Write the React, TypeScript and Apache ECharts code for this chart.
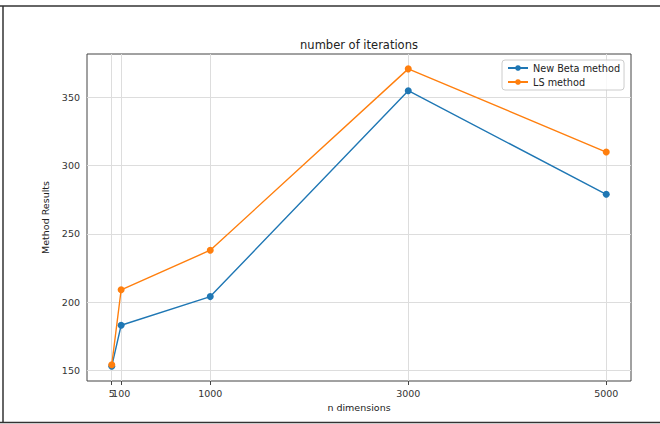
import React, { useEffect, useRef } from "react";
import * as echarts from "echarts";

const xValues = [5, 100, 1000, 3000, 5000];
const xTickLabels = ["5", "100", "1000", "3000", "5000"];
const yTicks = [150, 200, 250, 300, 350];
const newBeta = [153, 183, 204, 355, 279];
const lsMethod = [154, 209, 238, 371, 310];

const FONT = "DejaVu Sans";

export default function App() {
  const ref = useRef<HTMLDivElement>(null);
  useEffect(() => {
    if (!ref.current) return;
    const chart = echarts.init(ref.current, undefined, { renderer: "svg" });
    const axisColor = "#444";
    const gridColor = "#dddddd";
    const labelFmt = (v: number) => {
      const i = xValues.indexOf(v);
      return i >= 0 ? xTickLabels[i] : "";
    };
    const firstX = xValues.slice(0, 1);
    const restX = xValues.slice(1);
    const baseX = {
      type: "value",
      min: -245,
      max: 5250,
      position: "bottom",
      splitLine: { show: false },
      axisLine: { show: false },
    };
    chart.setOption({
      animation: false,
      backgroundColor: "#ffffff",
      grid: {
        left: 87,
        right: 29,
        top: 54,
        bottom: 43,
        show: true,
        borderColor: axisColor,
        borderWidth: 1,
        backgroundColor: "transparent",
      },
      xAxis: [
        {
          ...baseX,
          axisTick: {
            show: true,
            length: 4,
            customValues: restX,
            lineStyle: { color: axisColor, width: 1 },
          },
          axisLabel: {
            customValues: restX,
            formatter: labelFmt,
            hideOverlap: false,
            margin: 7,
            color: "#333",
            fontFamily: FONT,
            fontSize: 9.5,
          },
          name: "n dimensions",
          nameLocation: "middle",
          nameGap: 21,
          nameTextStyle: { color: "#222", fontFamily: FONT, fontSize: 9.5 },
        },
        {
          ...baseX,
          axisTick: {
            show: true,
            length: 4,
            customValues: firstX,
            lineStyle: { color: axisColor, width: 1 },
          },
          axisLabel: {
            customValues: firstX,
            formatter: labelFmt,
            margin: 7,
            color: "#333",
            fontFamily: FONT,
            fontSize: 9.5,
          },
        },
      ],
      yAxis: {
        type: "value",
        min: 142.1,
        max: 381.9,
        splitLine: { show: false },
        axisLine: { show: false },
        axisTick: {
          show: true,
          length: 4,
          customValues: yTicks,
          lineStyle: { color: axisColor, width: 1 },
        },
        axisLabel: {
          customValues: yTicks,
          margin: 7,
          color: "#333",
          fontFamily: FONT,
          fontSize: 9.5,
        },
        name: "Method Results",
        nameLocation: "middle",
        nameGap: 25,
        nameTextStyle: { color: "#222", fontFamily: FONT, fontSize: 9.5 },
      },
      legend: {
        data: ["New Beta method", "LS method"],
        orient: "vertical",
        left: 502,
        top: 60,
        itemWidth: 20,
        itemHeight: 7,
        itemGap: 4,
        padding: [3, 4, 3, 5],
        borderColor: "#cccccc",
        borderWidth: 1,
        borderRadius: 3,
        backgroundColor: "rgba(255,255,255,0.8)",
        textStyle: { color: "#222", fontFamily: FONT, fontSize: 9.7 },
      },
      graphic: [
        {
          type: "text",
          x: 359,
          y: 45,
          style: {
            text: "number of iterations",
            fill: "#222",
            font: `11.5px "${FONT}"`,
            textAlign: "center",
            textVerticalAlign: "middle",
          },
        },
        { type: "line", shape: { x1: 0, y1: 6, x2: 660, y2: 6 }, style: { stroke: "#333", lineWidth: 1.5 } },
        { type: "line", shape: { x1: 3, y1: 6, x2: 3, y2: 422.5 }, style: { stroke: "#333", lineWidth: 1.5 } },
        { type: "line", shape: { x1: 0, y1: 422.5, x2: 660, y2: 422.5 }, style: { stroke: "#333", lineWidth: 1.5 } },
      ],
      series: [
        {
          name: "grid",
          type: "line",
          data: [],
          z: 1,
          silent: true,
          markLine: {
            silent: true,
            z: 1,
            symbol: "none",
            label: { show: false },
            lineStyle: { color: gridColor, width: 1, type: "solid" },
            data: [
              ...xValues.map((v) => ({ xAxis: v })),
              ...yTicks.map((v) => ({ yAxis: v })),
            ],
          },
        },
        {
          name: "New Beta method",
          type: "line",
          data: xValues.map((x, i) => [x, newBeta[i]]),
          z: 3,
          color: "#1f77b4",
          symbol: "circle",
          symbolSize: 7,
          showAllSymbol: true,
          lineStyle: { width: 1.4, color: "#1f77b4" },
          itemStyle: { color: "#1f77b4", borderWidth: 0 },
        },
        {
          name: "LS method",
          type: "line",
          data: xValues.map((x, i) => [x, lsMethod[i]]),
          z: 4,
          color: "#ff7f0e",
          symbol: "circle",
          symbolSize: 7,
          showAllSymbol: true,
          lineStyle: { width: 1.4, color: "#ff7f0e" },
          itemStyle: { color: "#ff7f0e", borderWidth: 0 },
        },
      ],
    });
    return () => chart.dispose();
  }, []);
  return (
    <div
      ref={ref}
      style={{ position: "fixed", left: 0, top: 0, width: 660, height: 424, background: "#fff" }}
    />
  );
}
